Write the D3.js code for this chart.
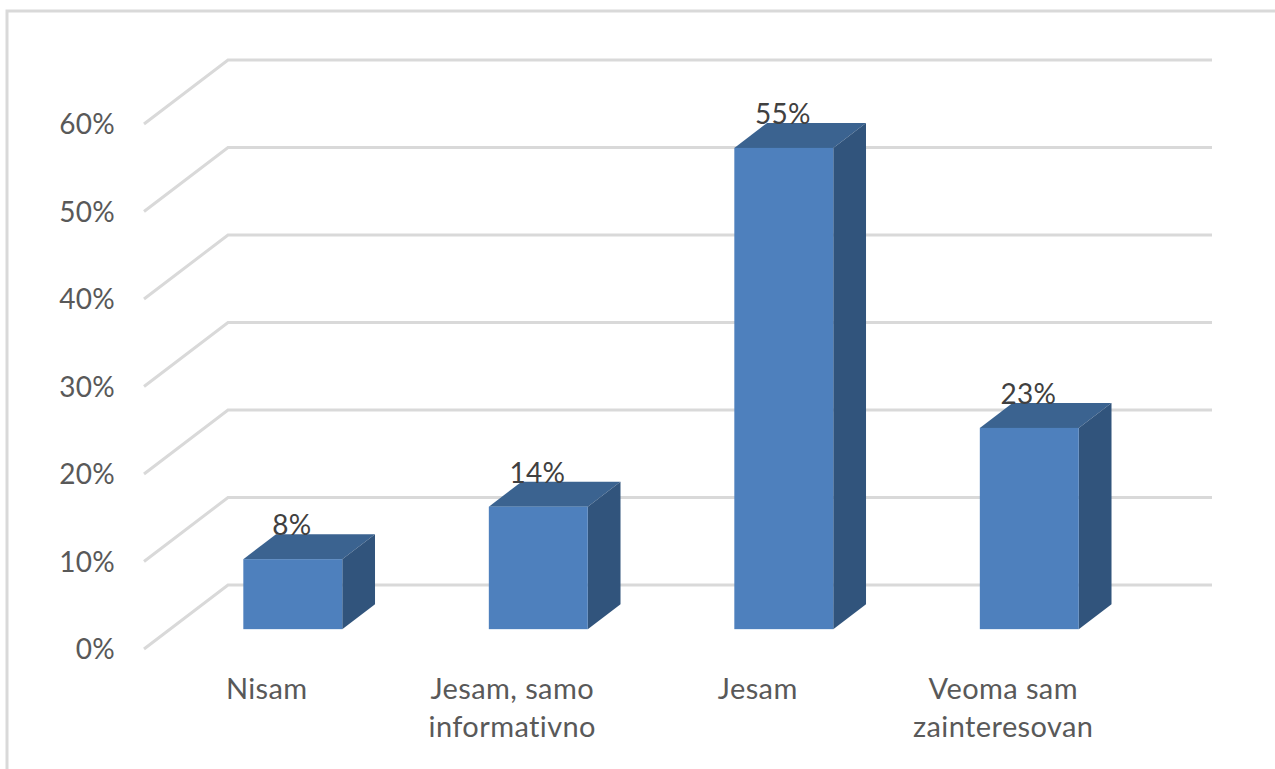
<!DOCTYPE html>
<html>
<head>
<meta charset="utf-8">
<script src="https://cdnjs.cloudflare.com/ajax/libs/d3/7.8.5/d3.min.js"></script>
<style>
  html, body { margin: 0; padding: 0; background: #fff; overflow: hidden; }
  svg { display: block; }
  text { font-family: Lato, "Open Sans", sans-serif; font-variant-ligatures: none; }
</style>
</head>
<body>
<svg width="1275" height="769"></svg>
<script>
var categories = [['Nisam'], ['Jesam, samo', 'informativno'], ['Jesam'], ['Veoma sam', 'zainteresovan']];
var values = [8, 14, 55, 23];
var ticks = [0, 10, 20, 30, 40, 50, 60];

var svg = d3.select('svg');

// frame
svg.append('rect')
  .attr('x', 7).attr('y', 11)
  .attr('width', 1400).attr('height', 900)
  .attr('fill', 'none')
  .attr('stroke', '#d9d9d9')
  .attr('stroke-width', 3);

var yScale = d3.scaleLinear().domain([0, 60]).range([649, 124]);

var xScale = d3.scaleBand()
  .domain(d3.range(categories.length))
  .range([144, 1126])
  .paddingInner(0.597)
  .paddingOuter(0.2985);

// depth of the floor, and where the bars sit inside it
var depthX = 84, depthY = -64;
var barNear = 0.31, barFar = 0.70;

function line(d) { return d3.line()(d); }

// gridlines: side wall + back wall
svg.selectAll('path.grid')
  .data(ticks)
  .enter()
  .append('path')
    .attr('class', 'grid')
    .attr('fill', 'none')
    .attr('stroke', '#d9d9d9')
    .attr('stroke-width', 3)
    .attr('d', function(d) {
      var y = yScale(d);
      return line([[144, y], [144 + depthX, y + depthY], [1212, y + depthY]]);
    });

svg.selectAll('text.tick')
  .data(ticks)
  .enter()
  .append('text')
    .attr('class', 'tick')
    .attr('x', 115)
    .attr('y', function(d) { return yScale(d) + 10; })
    .attr('text-anchor', 'end')
    .attr('font-size', 28)
    .attr('letter-spacing', 0.3)
    .attr('fill', '#595959')
    .text(function(d) { return d + '%'; });

var bars = svg.selectAll('g.bar')
  .data(values)
  .enter()
  .append('g')
    .attr('class', 'bar');

bars.each(function(d, i) {
  var g = d3.select(this);
  var x0 = xScale(i) + depthX * barNear;
  var x1 = x0 + xScale.bandwidth();
  var yb = yScale(0) + depthY * barNear;
  var yt = yb - (yScale(0) - yScale(d));
  var dx = depthX * (barFar - barNear);
  var dy = depthY * (barFar - barNear);

  g.append('path')
    .attr('fill', '#3b6390')
    .attr('d', line([[x0, yt], [x1, yt], [x1 + dx, yt + dy], [x0 + dx, yt + dy]]) + 'Z');
  g.append('path')
    .attr('fill', '#31547c')
    .attr('d', line([[x1, yt], [x1 + dx, yt + dy], [x1 + dx, yb + dy], [x1, yb]]) + 'Z');
  g.append('rect')
    .attr('x', x0).attr('y', yt)
    .attr('width', xScale.bandwidth())
    .attr('height', yb - yt)
    .attr('fill', '#4e80bd');
});

// data labels run into the top face of each bar, same as the original
bars.append('text')
  .attr('x', function(d, i) { return xScale(i) + depthX * barNear + xScale.bandwidth() / 2 - 1; })
  .attr('y', function(d) { return yScale(0) + depthY * barNear - (yScale(0) - yScale(d)) - 24; })
  .attr('text-anchor', 'middle')
  .attr('font-size', 28)
  .attr('letter-spacing', 0.2)
  .attr('fill', '#404040')
  .text(function(d) { return d + '%'; });

var labels = svg.selectAll('text.cat')
  .data(categories)
  .enter()
  .append('text')
    .attr('class', 'cat')
    .attr('text-anchor', 'middle')
    .attr('font-size', 29)
    .attr('letter-spacing', 0.4)
    .attr('fill', '#595959')
    .attr('x', function(d, i) { return xScale(i) + xScale.bandwidth() / 2; })
    .attr('y', 699);

labels.selectAll('tspan')
  .data(function(d) { return d; })
  .enter()
  .append('tspan')
    .attr('x', function() { return d3.select(this.parentNode).attr('x'); })
    .attr('dy', function(d, i) { return i === 0 ? 0 : 38; })
    .text(function(d) { return d; });
</script>
</body>
</html>
